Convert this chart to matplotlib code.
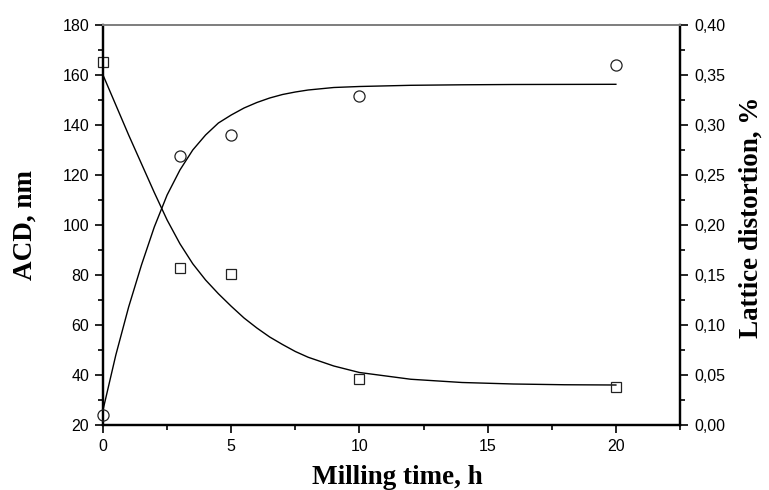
import numpy as np
import matplotlib
matplotlib.use("Agg")
import matplotlib.pyplot as plt
from matplotlib.ticker import MultipleLocator, FuncFormatter

# measured points
time_h = [0, 3, 5, 10, 20]
acd_nm = [165, 83, 80.4, 38.4, 35.3]
distortion = [0.010, 0.269, 0.290, 0.329, 0.360]

# fitted curves
fit_x = [0, 0.5, 1.0, 1.5, 2.0, 2.5, 3.0, 3.5, 4.0, 4.5, 5.0, 5.5, 6.0, 6.5, 7.0,
         7.5, 8.0, 9.0, 10, 12, 14, 16, 18, 20]
acd_fit = [160, 148, 136, 124.5, 113, 102, 92.5, 84.5, 78, 72.5, 67.5, 62.8, 58.8,
           55.2, 52.2, 49.4, 47.1, 43.6, 41, 38.3, 37, 36.4, 36.1, 36.0]
dist_fit = [0.015, 0.070, 0.118, 0.160, 0.198, 0.230, 0.255, 0.275, 0.290, 0.302,
            0.310, 0.317, 0.3225, 0.327, 0.3305, 0.333, 0.335, 0.3375, 0.3385,
            0.3397, 0.3402, 0.3405, 0.3406, 0.3407]

SANS = "Liberation Sans"
SERIF = "Liberation Serif"

fig = plt.figure(figsize=(7.69, 4.90), dpi=100)
ax = fig.add_axes([103 / 769, 65 / 490, 577 / 769, 400 / 490])
ax2 = ax.twinx()

ax.plot(fit_x, acd_fit, color='black', linewidth=1.0, zorder=3)
ax.plot(time_h, acd_nm, linestyle='none', marker='s', markersize=7,
        markerfacecolor='none', markeredgecolor='#222222', markeredgewidth=0.9,
        clip_on=False, zorder=4)
ax2.plot(fit_x, dist_fit, color='black', linewidth=1.0, zorder=3)
ax2.plot(time_h, distortion, linestyle='none', marker='o', markersize=8,
         markerfacecolor='none', markeredgecolor='#222222', markeredgewidth=0.9,
         clip_on=False, zorder=4)

ax.set_xlim(0, 22.5)
ax.set_ylim(20, 180)
ax2.set_ylim(0, 0.40)

ax.xaxis.set_major_locator(MultipleLocator(5))
ax.xaxis.set_minor_locator(MultipleLocator(2.5))
ax.yaxis.set_major_locator(MultipleLocator(20))
ax.yaxis.set_minor_locator(MultipleLocator(10))
ax2.yaxis.set_major_locator(MultipleLocator(0.05))
ax2.yaxis.set_minor_locator(MultipleLocator(0.025))
ax2.yaxis.set_major_formatter(FuncFormatter(lambda v, p: f"{v:.2f}".replace('.', ',')))

for a in (ax, ax2):
    a.tick_params(which='major', direction='out', length=6, width=1.2,
                  labelsize=11.5, pad=4)
    a.tick_params(which='minor', direction='out', length=3.5, width=1.2)
    for lab in a.get_xticklabels() + a.get_yticklabels():
        lab.set_fontfamily(SANS)
    for side in ('left', 'right', 'bottom'):
        a.spines[side].set_linewidth(1.6)
    a.spines['top'].set_color('#808080')
    a.spines['top'].set_linewidth(1.4)

ax.set_xlabel('Milling time, h', fontfamily=SERIF, fontweight='bold', fontsize=19.5)
ax.set_ylabel('ACD, nm', fontfamily=SERIF, fontweight='bold', fontsize=19.5)
ax2.set_ylabel('Lattice distortion, %', fontfamily=SERIF, fontweight='bold', fontsize=19.5)
ax.xaxis.set_label_coords(0.51, -0.099)
ax.yaxis.set_label_coords(-0.113, 0.5)
ax2.yaxis.set_label_coords(1.102, 0.52)

fig.savefig('out.png', dpi=100)
